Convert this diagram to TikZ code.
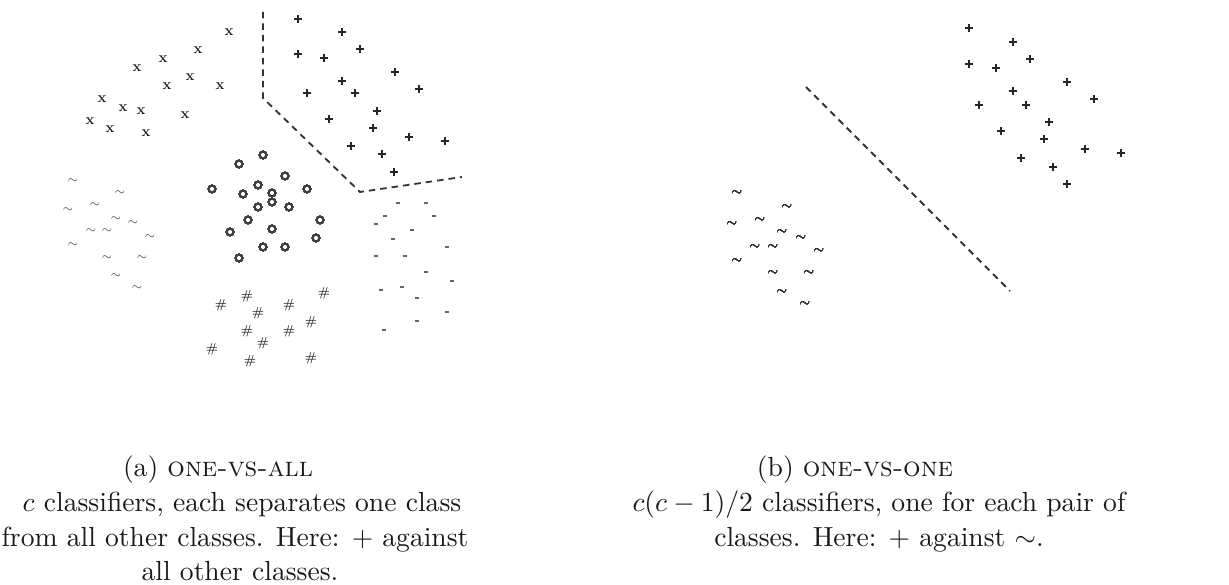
\RequirePackage{fix-cm}
\documentclass[tikz,border=0pt]{standalone}
\tikzset{
  pt/.style={inner sep=0pt, outer sep=0pt},
  xm/.style={pt, font=\fontsize{15}{15}\selectfont\bfseries, text=black!90},
  om/.style={pt, draw=black!75, line width=1.5pt, circle, minimum size=7pt},
  tm/.style={pt, font=\fontsize{13}{13}\selectfont, text=black!80},
  hm/.style={pt, font=\fontsize{13}{13}\selectfont\bfseries, text=black!85},
  plusmark/.style={line width=1.4pt, black!85},
  minusmark/.style={line width=1.3pt, black!60},
  sep/.style={line width=1.8pt, dash pattern=on 6.5pt off 5pt, black!80},
  txt/.style={pt, font=\fontsize{10}{12}\selectfont, scale=2.76, anchor=base, text=black!90},
}
\newcommand{\plusat}[3]{%
  \coordinate (#1) at (#2,#3);
  \draw[plusmark] ([xshift=-3.8pt]#1) -- ([xshift=3.8pt]#1) ([yshift=-3.8pt]#1) -- ([yshift=3.8pt]#1);}
\begin{document}
\begin{tikzpicture}[x=1pt, y=-1pt]
\useasboundingbox (0,0) rectangle (1229,585);
% ---------- (a) one-vs-all ----------
\foreach \px/\py [count=\i] in {229/32,198/50,163/59,137/68,190/77,167/86,220/86,102/99,123/108,141/111,185/115,90/121,110/129,146/133}
  \node[xm] (ax\i) at (\px,\py) {x};
\foreach \px/\py [count=\i] in {298/19,342/32,360/49,298/54,324/58,395/72,342/81,419/89,307/93,355/93,377/111,329/119,373/128,409/137,445/141,351/146,382/154,394/172}
  \plusat{ap\i}{\px}{\py}
\foreach \px/\py [count=\i] in {263/155,239/164,285/176,212/189,243/194,258/185,272/193,272/202,307/189,258/207,289/207,248/220,320/220,230/232,272/229,316/238,263/247,285/247,239/258}
  \node[om] (ao\i) at (\px,\py) {};
\foreach \px/\py [count=\i] in {73/181,120/193,95/205,68/210,116/219,133/223,91/231,107/231,150/237,73/245,107/258,142/258,116/276,137/288}
  \node[tm] (at\i) at (\px,\py) {$\sim$};
\foreach \px/\py [count=\i] in {398/203,426/203,385/216,434/216,376/224,412/230,393/239,447/247,376/256,405/256,426/272,452/281,402/287,381/290,417/298,447/312,417/321,384/330}
  {\coordinate (am\i) at (\px,\py);
   \draw[minusmark] ([xshift=-2.3pt]am\i) -- ([xshift=2.3pt]am\i);}
\foreach \px/\py [count=\i] in {324/293,247/296,221/305,289/305,258/313,311/322,247/331,289/331,263/343,212/349,250/361,311/358}
  \node[hm] (ah\i) at (\px,\py) {\#};
\coordinate (a1) at (263,12);
\coordinate (a2) at (263,98);
\coordinate (a3) at (360,192);
\coordinate (a4) at (462,177);
\draw[sep] (a1) -- (a2) -- (a3) -- (a4);
% ---------- (b) one-vs-one ----------
\foreach \px/\py [count=\i] in {969/28,1013/42,1030/59,969/64,996/68,1067/82,1013/91,1094/99,979/105,1026/105,1049/122,1001/131,1044/139,1085/149,1121/153,1021/158,1053/167,1067/184}
  \plusat{bp\i}{\px}{\py}
\foreach \px/\py [count=\i] in {737/193,787/207,732/224,760/220,782/232,801/238,755/247,773/247,819/251,737/261,773/273,809/273,782/292,805/304}
  \node[tm] (bt\i) at (\px,\py) {$\sim$};
\coordinate (b1) at (806,87);
\coordinate (b2) at (1010,291);
\draw[sep] (b1) -- (b2);
% ---------- captions ----------
\node[txt] (capa) at (218,476) {(a) \textsc{one-vs-all}};
\node[txt] (la1) at (242,511) {$c$ classifiers, each separates one class};
\node[txt] (la2) at (235,546) {from all other classes. Here: $+$ against};
\node[txt] (la3) at (240,580) {all other classes.};
\node[txt] (capb) at (855,476) {(b) \textsc{one-vs-one}};
\node[txt] (lb1) at (879,511) {$c(c-1)/2$ classifiers, one for each pair of};
\node[txt] (lb2) at (879,546) {classes. Here: $+$ against $\sim$.};
\end{tikzpicture}
\end{document}
